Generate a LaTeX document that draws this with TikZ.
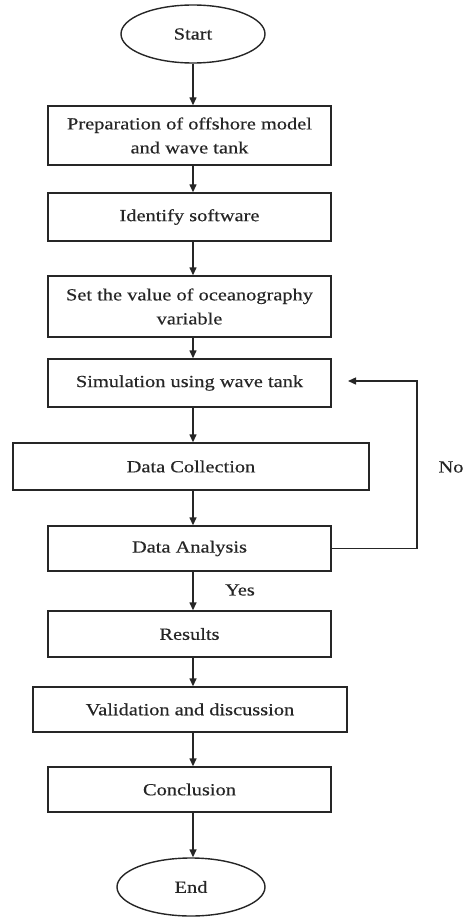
\documentclass[tikz,border=0pt]{standalone}
\usepackage{fontspec}
\setmainfont{Liberation Serif}[FakeStretch=1.2,FakeBold=0.4]
\usetikzlibrary{arrows.meta,shapes.geometric,calc}
\begin{document}
\begin{tikzpicture}[x=1pt,y=-1pt,
  every node/.style={text=black!85},
  stepbox/.style={draw=black!85,line width=1.4pt,rectangle,inner sep=0pt,
    font=\fontsize{17}{24}\selectfont,align=center},
  term/.style={draw=black!85,line width=1.4pt,ellipse,inner sep=0pt,
    font=\fontsize{17}{24}\selectfont},
  arr/.style={draw=black!85,line width=1.4pt,-{Triangle[length=8pt,width=7pt]}},
  lbl/.style={font=\fontsize{17}{24}\selectfont}]
\useasboundingbox (0,0) rectangle (470,917);
\coordinate (ax) at (193,0);
\node[term,minimum width=144pt,minimum height=58pt] (start) at (193,34) {Start};
\node[stepbox,minimum width=283pt,minimum height=59pt] (s1) at (189.5,135.5) {Preparation of offshore model\\and wave tank};
\node[stepbox,minimum width=283pt,minimum height=48pt] (s2) at (189.5,217) {Identify software};
\node[stepbox,minimum width=283pt,minimum height=61pt] (s3) at (189.5,306.5) {Set the value of oceanography\\variable};
\node[stepbox,minimum width=283pt,minimum height=48pt] (s4) at (189.5,383) {Simulation using wave tank};
\node[stepbox,minimum width=356pt,minimum height=47pt] (s5) at (191,466.5) {Data Collection};
\node[stepbox,minimum width=283pt,minimum height=45pt] (s6) at (189.5,548.5) {Data Analysis};
\node[stepbox,minimum width=283pt,minimum height=46pt] (s7) at (189.5,634) {Results};
\node[stepbox,minimum width=314pt,minimum height=45pt] (s8) at (190,709.5) {Validation and discussion};
\node[stepbox,minimum width=283pt,minimum height=45pt] (s9) at (189.5,789.5) {Conclusion};
\node[term,minimum width=148pt,minimum height=58pt] (end) at (191,887) {End};
\node[lbl] (no) at (451,467) {No};
\node[lbl] (yes) at (240,590) {Yes};
\coordinate (loopx) at (417,0);
\coordinate (tip) at (348,381);
\draw[arr] (start.south -| ax) -- (s1.north -| ax);
\draw[arr] (s1.south -| ax) -- (s2.north -| ax);
\draw[arr] (s2.south -| ax) -- (s3.north -| ax);
\draw[arr] (s3.south -| ax) -- (s4.north -| ax);
\draw[arr] (s4.south -| ax) -- (s5.north -| ax);
\draw[arr] (s5.south -| ax) -- (s6.north -| ax);
\draw[arr] (s6.south -| ax) -- (s7.north -| ax);
\draw[arr] (s7.south -| ax) -- (s8.north -| ax);
\draw[arr] (s8.south -| ax) -- (s9.north -| ax);
\draw[arr] (s9.south -| ax) -- (end.north -| ax);
\draw[arr] (s6.east) -- (s6.east -| loopx) -- (tip -| loopx) -- (tip);
\end{tikzpicture}
\end{document}
